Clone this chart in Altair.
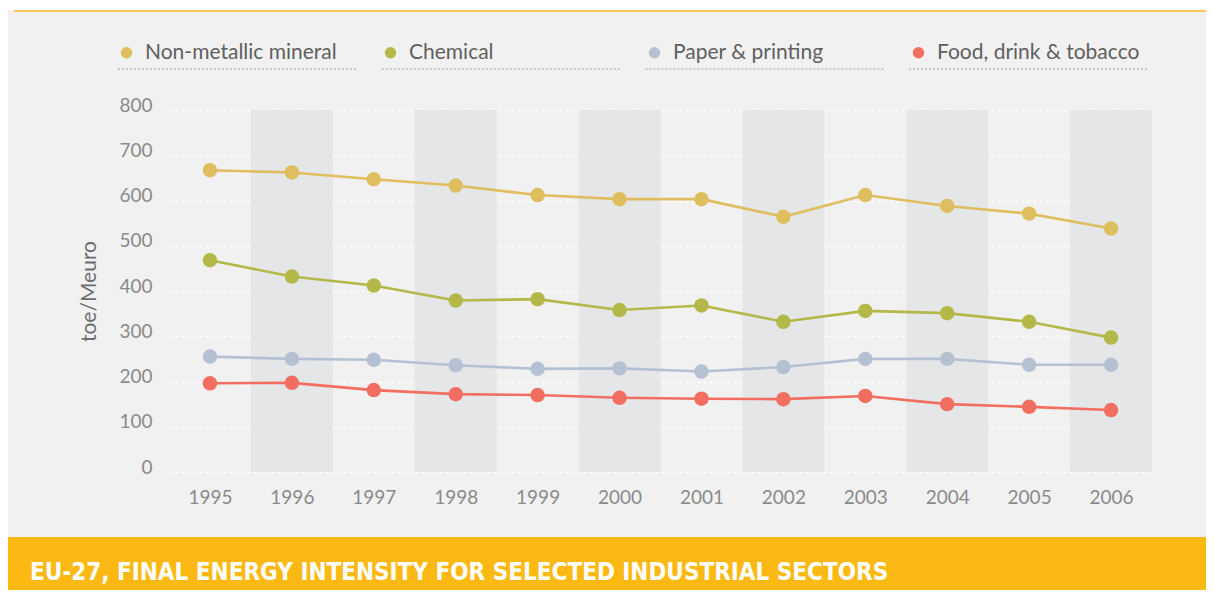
import altair as alt
import pandas as pd

years = [1995, 1996, 1997, 1998, 1999, 2000, 2001, 2002, 2003, 2004, 2005, 2006]
sectors = ["Non-metallic mineral", "Chemical", "Paper & printing", "Food, drink & tobacco"]
non_metallic = [667, 662, 647, 633, 612, 603, 603, 564, 612, 588, 571, 538]
chemical = [468, 432, 412, 379, 382, 358, 368, 332, 356, 351, 332, 297]
paper = [255, 250, 248, 236, 228, 229, 222, 232, 250, 250, 237, 237]
food = [196, 197, 181, 172, 170, 164, 162, 161, 168, 150, 144, 137]
colors = ["#dfbe60", "#b3b849", "#b5c1d2", "#f26e60"]
y_ticks = [0, 100, 200, 300, 400, 500, 600, 700, 800]
title_text = "EU-27, FINAL ENERGY INTENSITY FOR SELECTED INDUSTRIAL SECTORS"
y_title = "toe/Meuro"

series = [non_metallic, chemical, paper, food]
rows = []
for name, vals in zip(sectors, series):
    for yr, v in zip(years, vals):
        rows.append({"year": yr, "value": v, "sector": name})
df = pd.DataFrame(rows)

shade_df = pd.DataFrame({"year": years[1::2]})

W, H = 983, 362
PL, PT, PR, PB = 161, 102, 54, 118
FONT = "Lato"

x_scale = alt.Scale(domain=[years[0] - 0.5, years[-1] + 0.5], nice=False, zero=False)
x_axis = alt.Axis(values=years, format="d", title=None, grid=False, domain=False, ticks=False,
                  labelFont=FONT, labelFontSize=19, labelColor="#8a8a8a", labelPadding=16,
                  labelBaseline="top")
x_enc = alt.X("year:Q", scale=x_scale, axis=x_axis)
y_enc = alt.Y("value:Q", scale=alt.Scale(domain=[0, 800], nice=False),
              axis=alt.Axis(values=y_ticks, title=y_title, grid=True, gridColor="#ffffff", gridDash=[3, 3],
                            gridWidth=1.3, domain=False, ticks=False, labelFont=FONT, labelFontSize=19,
                            labelColor="#8a8a8a", labelPadding=17, labelBaseline="middle", labelOffset=-5,
                            titleFont=FONT, titleFontSize=21, titleColor="#6d6d6d", titleFontWeight="normal",
                            titlePadding=19))

shade = alt.Chart(shade_df).mark_rect(color="#e5e6e8").transform_calculate(
    x0="datum.year - 0.5", x1="datum.year + 0.5"
).encode(
    x=alt.X("x0:Q", scale=x_scale, axis=x_axis),
    x2="x1:Q",
    y=alt.value(0),
    y2=alt.value(H),
)

legend = alt.Legend(title=None, orient="none", legendX=-53, legendY=-68, direction="horizontal",
                    columns=4, gridAlign="all", columnPadding=32, symbolType="circle",
                    symbolSize=130, symbolStrokeWidth=0, labelFont=FONT, labelFontSize=21,
                    labelColor="#5f5f5f", labelOffset=8, labelLimit=400, padding=0)
color_enc = alt.Color("sector:N", scale=alt.Scale(domain=sectors, range=colors), sort=sectors, legend=legend)

lines = alt.Chart(df).mark_line(strokeWidth=2.6).encode(
    x=x_enc, y=y_enc, color=color_enc, detail="sector:N",
)

points = alt.Chart(df).mark_circle(size=210, opacity=1).encode(
    x=x_enc, y=y_enc, color=color_enc,
)

top_white = alt.Chart(pd.DataFrame({"k": [0]})).mark_rect(color="#ffffff").encode(
    x=alt.value(-PL), x2=alt.value(W + PR), y=alt.value(-PT), y2=alt.value(-PT + 2))
top_line = alt.Chart(pd.DataFrame({"k": [0]})).mark_rule(color="#fcc64d", strokeWidth=2).encode(
    x=alt.value(-PL + 6), x2=alt.value(W + PR), y=alt.value(-99))

bar = alt.Chart(pd.DataFrame({"k": [0]})).mark_rect(color="#fdb913").encode(
    x=alt.value(-PL), x2=alt.value(W + PR), y=alt.value(427), y2=alt.value(H + PB))
title = alt.Chart(pd.DataFrame({"t": [title_text]})).mark_text(
    font="DejaVu Sans Condensed", fontSize=24, fontWeight="bold", color="#ffffff", align="left",
    baseline="middle").encode(text="t:N", x=alt.value(-139), y=alt.value(463))

underlines = []
for i in range(len(sectors)):
    x0 = -51 + i * 263.7
    underlines.append(
        alt.Chart(pd.DataFrame({"k": [i]})).mark_rule(color="#9a9a9a", strokeWidth=1, strokeDash=[2, 2]).encode(
            x=alt.value(x0), x2=alt.value(x0 + 239), y=alt.value(-41)))

chart = alt.layer(shade, top_white, top_line, bar, title, *underlines, lines, points).properties(
    width=W, height=H, autosize=alt.AutoSizeParams(type="none"),
    padding={"left": PL, "top": PT, "right": PR, "bottom": PB},
    background="#f1f1f1",
).configure_view(stroke=None)

chart.save("out.html", embed_options={"renderer": "svg", "actions": False})
